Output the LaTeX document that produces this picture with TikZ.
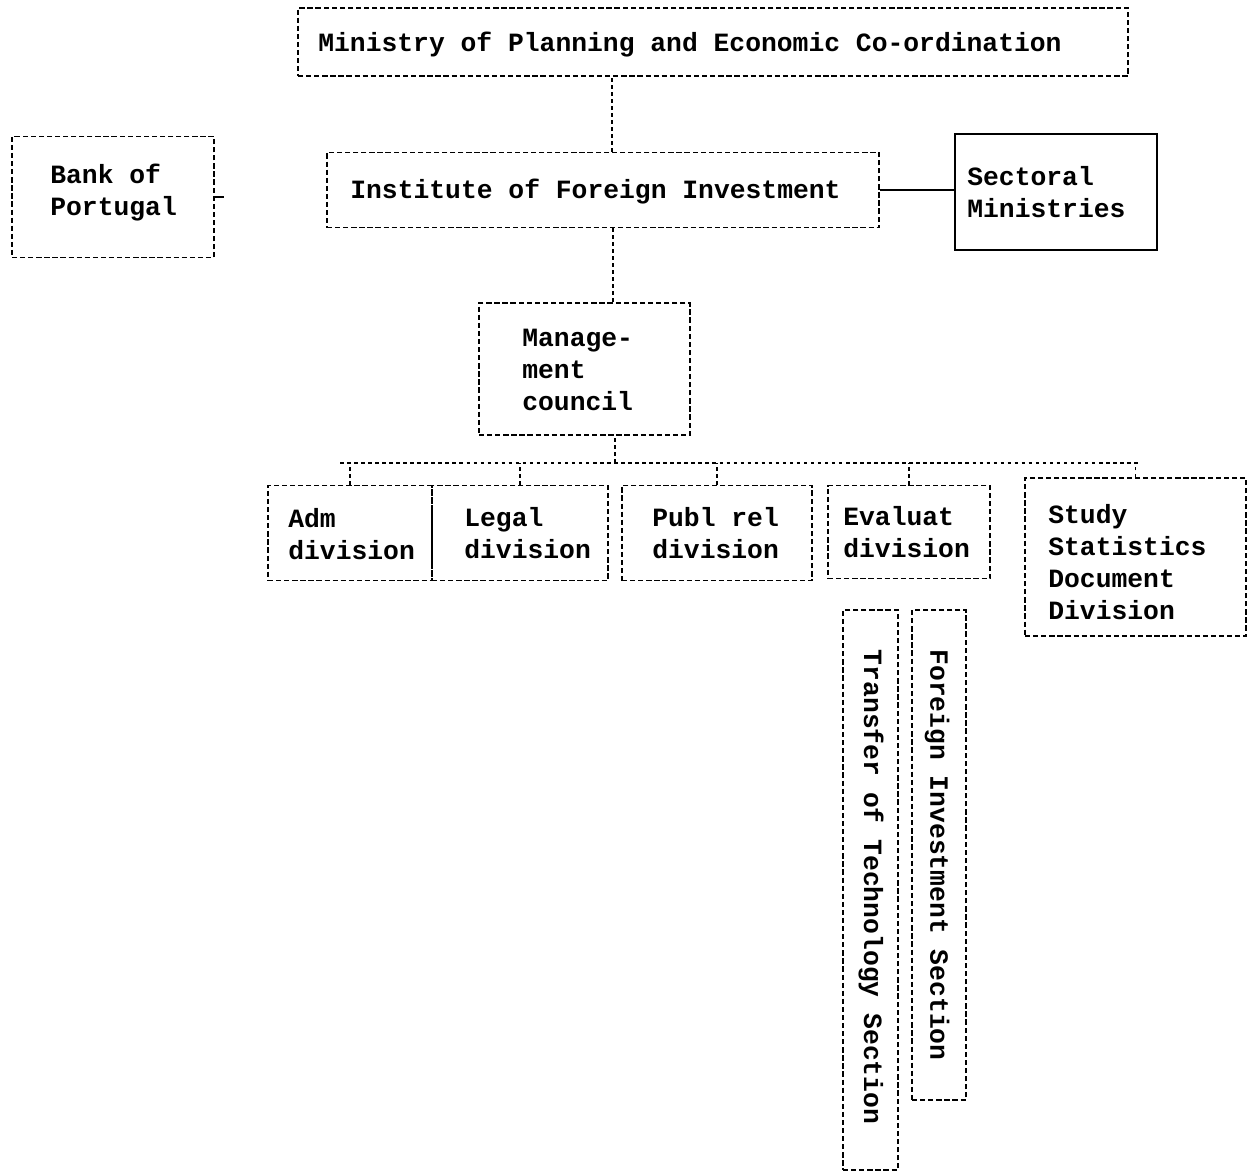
\documentclass[tikz,border=0pt]{standalone}
\usepackage{fontspec}
\newfontfamily\typew{Liberation Mono}
\begin{document}
\begin{tikzpicture}[x=0.02cm,y=-0.02cm,
  frame/.style={draw, line width=0.8pt, dash pattern=on 3pt off 1.6pt, inner sep=0},
  plain/.style={draw, line width=0.9pt, inner sep=0},
  boxwh/.style 2 args={minimum width=#1*0.02cm, minimum height=#2*0.02cm},
  lbl/.style={font=\typew\bfseries\fontsize{15}{18.2}\selectfont, align=left, inner sep=0, anchor=west},
  link/.style={line width=0.8pt, dash pattern=on 2pt off 2pt},
  solidlink/.style={line width=0.9pt}]
\useasboundingbox (0,0) rectangle (1251,1173);

% boxes
\node[frame, boxwh={830}{68}]  (ministry) at (713,42) {};
\node[frame, boxwh={202}{121}] (bank)     at (113,197) {};
\node[frame, boxwh={552}{75}]  (inst)     at (603,190) {};
\node[plain, boxwh={202}{116}] (sect)     at (1056,192) {};
\node[frame, boxwh={211}{132}] (mgmt)     at (584.5,369) {};
\node[frame, boxwh={164}{95}]  (adm)      at (350,533) {};
\node[frame, boxwh={176}{95}]  (legal)    at (520,533) {};
\node[frame, boxwh={190}{95}]  (publ)     at (717,533) {};
\node[frame, boxwh={162}{93}]  (eval)     at (909,532) {};
\node[frame, boxwh={221}{158}] (study)    at (1135.5,557) {};
\node[frame, boxwh={55}{560}]  (transfer) at (870.5,890) {};
\node[frame, boxwh={54}{490}]  (foreign)  at (939,855) {};

% labels
\node[lbl] (tMin)   at (318,45)  {Ministry of Planning and Economic Co-ordination};
\node[lbl] (tBank)  at (50,193)  {Bank of\\Portugal};
\node[lbl] (tInst)  at (350,192) {Institute of Foreign Investment};
\node[lbl] (tSect)  at (967,192) {Sectoral\\Ministries};
\node[lbl] (tMgmt)  at (522,370) {Manage-\\ment\\council};
\node[lbl] (tAdm)   at (288,534) {Adm\\division};
\node[lbl] (tLegal) at (464,533) {Legal\\division};
\node[lbl] (tPubl)  at (652,533) {Publ rel\\division};
\node[lbl] (tEval)  at (843,532) {Evaluat\\division};
\node[lbl] (tStudy) at (1048,562) {Study\\Statistics\\Document\\Division};
\node[lbl, rotate=-90, anchor=center] (tTrans) at (871,887) {Transfer of Technology Section};
\node[lbl, rotate=-90, anchor=center] (tFor)   at (937,855) {Foreign Investment Section};

% connectors
\draw[link] ([xshift=0.18cm]inst.north) -- ([xshift=0.18cm]inst.north |- ministry.south);
\draw[link] ([xshift=0.2cm]inst.south) -- ([xshift=0.2cm]inst.south |- mgmt.north);
\draw[solidlink] (inst.east) -- (inst.east -| sect.west);
\coordinate (bankstub) at (224,197);
\draw[solidlink] (bank.east) -- (bankstub);

\coordinate (busL) at (340,463);
\coordinate (busR) at (1140,463);
\coordinate (busTop) at (615,463);
\draw[link] (busTop) -- (busTop |- mgmt.south);
\draw[link] (busL) -- (busR);
\foreach \b in {adm,legal,publ,eval,study}
  \draw[link] (\b.north) -- (\b.north |- busL);
\end{tikzpicture}
\end{document}
